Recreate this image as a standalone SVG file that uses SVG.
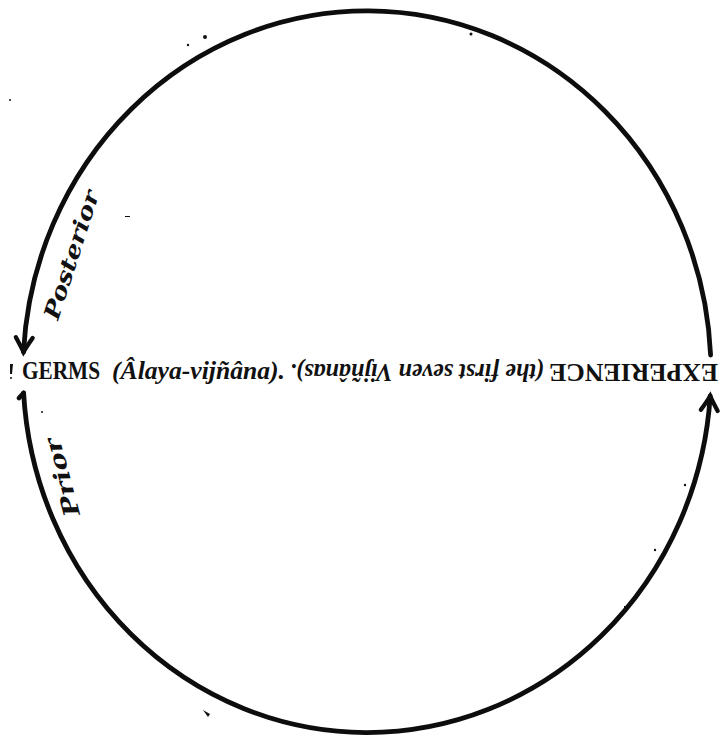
<svg xmlns="http://www.w3.org/2000/svg" width="721" height="737" viewBox="0 0 721 737">
<style>
.arc{fill:none;stroke:#0d0d0d;stroke-width:4.8;stroke-linecap:round}
.up{font-family:"Liberation Serif","DejaVu Serif",serif;font-weight:bold;font-size:26px;fill:#111}
.it{font-family:"Liberation Serif","DejaVu Serif",serif;font-weight:bold;font-style:italic;font-size:26px;fill:#111}
.lab{font-family:"DejaVu Serif","Liberation Serif",serif;font-weight:bold;font-style:italic;font-size:22px;fill:#111}
.speck{fill:#111}
</style>
<defs>
<marker id="arr" markerUnits="userSpaceOnUse" markerWidth="24" markerHeight="24" viewBox="-14 -10 16 20" refX="0" refY="0" orient="auto" overflow="visible">
<path d="M-12,-7 Q-4,-2 0,0 Q-4,2 -12,7" fill="none" stroke="#0d0d0d" stroke-width="3.6" stroke-linecap="round"/>
</marker>
</defs>
<rect width="721" height="737" fill="#fff"/>
<g id="connectors">
<path id="upper-arc" class="arc" d="M710.6,355 A344,361 0 0 0 23.5,352" marker-end="url(#arr)"/>
<path id="lower-arc" class="arc" d="M23.6,393 A344,361 0 0 0 710.2,396" marker-end="url(#arr)"/>
<path class="arc" d="M23.6,393 L19,398" stroke-width="3"/>
</g>
<g id="germs">
<text class="up" transform="translate(22,379) scale(1,1.1)" x="0" y="0" style="font-size:23px" textLength="78" lengthAdjust="spacingAndGlyphs">GERMS</text>
<text class="it" x="112" y="379" textLength="173" lengthAdjust="spacingAndGlyphs">(Âlaya-vijñâna).</text>
</g>
<g id="experience" transform="translate(718,364) rotate(180)">
<text class="up" x="0" y="0" textLength="169" lengthAdjust="spacingAndGlyphs">EXPERIENCE</text>
<text class="it" x="174" y="0" textLength="254" lengthAdjust="spacingAndGlyphs">(the first seven Vijñânas).</text>
</g>
<g id="label-posterior" transform="translate(58,321) rotate(-72)">
<text class="lab" x="0" y="0" textLength="134" lengthAdjust="spacingAndGlyphs">Posterior</text>
</g>
<g id="label-prior" transform="translate(80,514) rotate(-105)">
<text class="lab" x="0" y="0" textLength="80" lengthAdjust="spacingAndGlyphs">Prior</text>
</g>
<g id="specks">
<circle class="speck" cx="205" cy="37" r="2"/>
<circle class="speck" cx="188" cy="45" r="1.2"/>
<circle class="speck" cx="471" cy="34" r="1.5"/>
<circle class="speck" cx="10" cy="100" r="1"/>
<rect class="speck" x="125" y="216" width="5" height="1"/>
<path class="speck" d="M10,364 L13,364 L12,374 L10,374Z"/>
<circle class="speck" cx="11" cy="378" r="1"/>
<circle class="speck" cx="685" cy="485" r="1.2"/>
<circle class="speck" cx="655" cy="550" r="1.2"/>
<rect class="speck" x="624" y="606" width="1.5" height="6"/>
<path class="speck" d="M203,710 L210,714 L208,717 Z"/>
<circle class="speck" cx="42" cy="412" r="1"/>
</g>
</svg>
